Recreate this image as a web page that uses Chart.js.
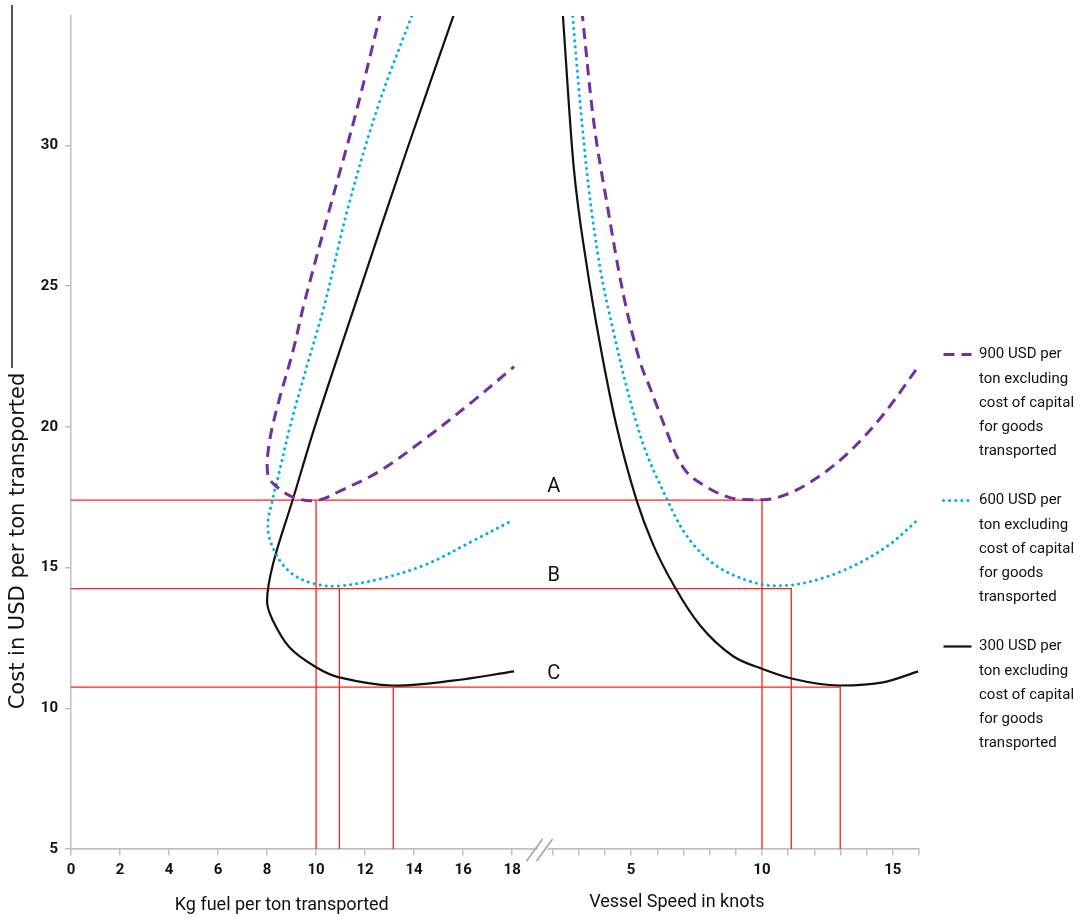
<!DOCTYPE html>
<html>
<head>
<meta charset="utf-8">
<title>Cost per ton transported vs fuel and vessel speed</title>
<script src="https://cdn.jsdelivr.net/npm/chart.js@4.4.1/dist/chart.umd.min.js"></script>
<style>
  html, body { margin: 0; padding: 0; background: #fff; }
</style>
</head>
<body>
<canvas id="costChart" width="1083" height="920"></canvas>
<script>
// Left panel: kg fuel per ton transported -> cost in USD per ton
var fuel900 = [12.66, 11.63, 10.55, 9.53, 9.05, 8.51, 8.10, 8.03, 8.37, 9.12, 10.07, 10.95, 12.58, 14.48, 16.38, 18.08];
var costByFuel900 = [34.8, 31.17, 27.74, 24.44, 22.67, 21.01, 19.48, 18.30, 17.89, 17.48, 17.39, 17.71, 18.42, 19.60, 20.90, 22.14];
var fuel600 = [13.99, 12.58, 11.36, 10.34, 9.60, 8.92, 8.44, 8.24, 8.03, 8.37, 9.05, 10.00, 10.95, 12.58, 14.48, 16.38, 18.00];
var costByFuel600 = [34.8, 31.52, 27.98, 24.32, 22.08, 19.95, 18.18, 17.48, 16.41, 15.47, 14.76, 14.41, 14.35, 14.59, 15.11, 15.94, 16.67];
var fuel300 = [15.68, 13.67, 11.63, 10.00, 9.05, 8.24, 8.00, 8.24, 8.92, 10.00, 10.95, 13.12, 15.57, 18.08];
var costByFuel300 = [34.8, 29.75, 24.44, 20.15, 17.42, 15.12, 13.80, 13.11, 12.16, 11.46, 11.10, 10.81, 10.98, 11.31];

// Right panel: vessel speed in knots -> cost in USD per ton
var speed900 = [3.12, 3.56, 4.07, 4.71, 5.34, 5.73, 6.36, 6.72, 7.10, 7.74, 8.44, 9.14, 10.05, 10.94, 12.09, 13.36, 14.63, 15.97];
var costBySpeed900 = [34.8, 30.93, 27.98, 24.68, 22.32, 21.37, 19.84, 19.01, 18.42, 17.95, 17.60, 17.42, 17.41, 17.60, 18.18, 19.13, 20.43, 22.14];
var speed600 = [2.75, 3.05, 3.37, 3.82, 4.30, 4.84, 5.47, 6.23, 7.00, 8.02, 9.29, 10.56, 11.70, 13.36, 14.89, 15.97];
var costBySpeed600 = [34.8, 31.52, 28.57, 25.62, 23.50, 21.37, 19.36, 17.71, 16.30, 15.23, 14.59, 14.35, 14.47, 15.00, 15.83, 16.71];
var speed300 = [2.38, 2.80, 3.31, 3.82, 4.45, 5.22, 5.85, 6.68, 7.63, 8.90, 10.05, 11.13, 12.98, 14.63, 15.97];
var costBySpeed300 = [34.8, 29.3, 25.7, 22.9, 20.0, 17.36, 15.8, 14.29, 12.95, 11.85, 11.39, 11.06, 10.81, 10.92, 11.31];

// Optimum points A, B, C (cost, fuel, speed)
var optLetters = ['A', 'B', 'C'];
var optCost = [17.4, 14.25, 10.75];
var optFuel = [10.0, 10.95, 13.15];
var optSpeed = [10.0, 11.12, 12.99];

// Axis ranges and labels
var costMin = 5, costMax = 34.6, costStep = 5;
var fuelMin = 0, fuelMax = 34.6, fuelLast = 18, fuelStep = 2;
var speedMin = -16.4, speedMax = 16, speedFirst = 2, speedLabelStep = 5;

var seriesNames = [
    ['900 USD per', 'ton excluding', 'cost of capital', 'for goods', 'transported'],
    ['600 USD per', 'ton excluding', 'cost of capital', 'for goods', 'transported'],
    ['300 USD per', 'ton excluding', 'cost of capital', 'for goods', 'transported']
];
var seriesColors = ['#7030a0', '#00b0f0', '#111111'];
var seriesDash = [[11, 7], [0.1, 6], []];
var seriesWidth = [3, 3, 2.2];

var tickFont = { family: 'Roboto, sans-serif', size: 15, weight: 'bold' };
var axisGray = '#bfbfbf';

function points(xs, ys) {
    return xs.map(function(x, i) { return { x: x, y: ys[i] }; });
}

function curve(idx, axisId, xs, ys) {
    var ds = {
        label: seriesNames[idx],
        xAxisID: axisId,
        data: points(xs, ys),
        borderColor: seriesColors[idx],
        backgroundColor: seriesColors[idx],
        borderWidth: seriesWidth[idx],
        borderDash: seriesDash[idx],
        borderCapStyle: idx === 1 ? 'round' : 'butt',
        pointRadius: 0,
        fill: false
    };
    // speed curves run left to right, fuel curves fold back on themselves
    if (axisId === 'xs') {
        ds.cubicInterpolationMode = 'monotone';
    } else {
        ds.tension = 0.35;
    }
    return ds;
}

var datasets = [
    curve(0, 'xk', fuel900, costByFuel900),
    curve(1, 'xk', fuel600, costByFuel600),
    curve(2, 'xk', fuel300, costByFuel300),
    curve(0, 'xs', speed900, costBySpeed900),
    curve(1, 'xs', speed600, costBySpeed600),
    curve(2, 'xs', speed300, costBySpeed300)
];

// Red guide lines for A, B, C
optCost.forEach(function(c, i) {
    datasets.push({
        label: optLetters[i],
        xAxisID: 'xs',
        data: [{ x: speedMin, y: c }, { x: optSpeed[i], y: c }, { x: optSpeed[i], y: costMin }],
        borderColor: '#ff2020',
        borderWidth: 1.3,
        pointRadius: 0,
        tension: 0
    });
    datasets.push({
        label: optLetters[i],
        xAxisID: 'xk',
        data: [{ x: optFuel[i], y: c }, { x: optFuel[i], y: costMin }],
        borderColor: '#ff2020',
        borderWidth: 1.3,
        pointRadius: 0,
        tension: 0
    });
});

// Titles, A/B/C letters and the axis break mark
var extrasPlugin = {
    id: 'extras',
    afterDraw: function(chart) {
        var ctx = chart.ctx;
        var xk = chart.scales.xk, xs = chart.scales.xs, y = chart.scales.y;
        var axisY = y.getPixelForValue(costMin);
        ctx.save();

        // break mark on the x axis
        var cx = xs.getPixelForValue(speedFirst) - 12;
        ctx.fillStyle = '#ffffff';
        ctx.beginPath();
        ctx.moveTo(cx - 9, axisY + 12);
        ctx.lineTo(cx + 1, axisY + 12);
        ctx.lineTo(cx + 12, axisY - 10);
        ctx.lineTo(cx + 2, axisY - 10);
        ctx.closePath();
        ctx.fill();
        ctx.strokeStyle = '#a0a0a0';
        ctx.lineWidth = 1.5;
        ctx.beginPath();
        ctx.moveTo(cx - 14, axisY + 12);
        ctx.lineTo(cx + 2, axisY - 10);
        ctx.moveTo(cx - 4, axisY + 12);
        ctx.lineTo(cx + 12, axisY - 10);
        ctx.stroke();

        // letters above the guide lines
        ctx.fillStyle = '#111111';
        ctx.font = '20px Roboto, sans-serif';
        ctx.textAlign = 'center';
        ctx.textBaseline = 'bottom';
        optLetters.forEach(function(t, i) {
            ctx.fillText(t, xk.getPixelForValue(19.7), y.getPixelForValue(optCost[i]) - 3);
        });

        // axis titles
        ctx.font = '18px Roboto, sans-serif';
        ctx.textBaseline = 'middle';
        ctx.fillText('Kg fuel per ton transported', xk.getPixelForValue(8.6), 905);
        ctx.fillText('Vessel Speed in knots', xs.getPixelForValue(6.75), 902);

        ctx.save();
        ctx.translate(19, 541);
        ctx.rotate(-Math.PI / 2);
        ctx.font = '21px "DejaVu Sans", sans-serif';
        ctx.fillText('Cost in USD per ton transported', 0, 0);
        ctx.restore();

        // dark rule at the top left edge
        ctx.strokeStyle = '#555555';
        ctx.lineWidth = 2;
        ctx.beginPath();
        ctx.moveTo(12, 5);
        ctx.lineTo(12, 368);
        ctx.stroke();

        ctx.restore();
    }
};

var gridOpts = { drawOnChartArea: false, drawTicks: true, tickLength: 6, color: axisGray, lineWidth: 1.5 };
var borderOpts = { display: true, color: axisGray, width: 1.5 };

new Chart(document.getElementById('costChart').getContext('2d'), {
    type: 'line',
    data: { datasets: datasets },
    options: {
        responsive: false,
        animation: false,
        events: [],
        layout: { padding: { top: 14, right: 0, bottom: 71, left: 0 } },
        scales: {
            y: {
                type: 'linear',
                position: 'left',
                min: costMin,
                max: costMax,
                grid: gridOpts,
                border: borderOpts,
                ticks: { stepSize: costStep, includeBounds: false, padding: 7, color: '#111', font: tickFont },
                afterFit: function(scale) { scale.width = 71; }
            },
            xk: {
                type: 'linear',
                position: { y: costMin },
                min: fuelMin,
                max: fuelMax,
                grid: gridOpts,
                border: borderOpts,
                ticks: { stepSize: fuelStep, includeBounds: false, autoSkip: false, maxRotation: 0, padding: 6, color: '#111', font: tickFont },
                afterBuildTicks: function(scale) {
                    scale.ticks = scale.ticks.filter(function(t) { return t.value <= fuelLast; });
                }
            },
            xs: {
                type: 'linear',
                position: { y: costMin },
                min: speedMin,
                max: speedMax,
                grid: gridOpts,
                border: borderOpts,
                ticks: {
                    stepSize: 1, includeBounds: false, autoSkip: false, maxRotation: 0, padding: 6, color: '#111', font: tickFont,
                    callback: function(v) { return v % speedLabelStep === 0 ? String(v) : ''; }
                },
                afterBuildTicks: function(scale) {
                    scale.ticks = scale.ticks.filter(function(t) { return t.value >= speedFirst; });
                }
            }
        },
        plugins: {
            tooltip: { enabled: false },
            legend: {
                position: 'right',
                align: 'start',
                maxWidth: 164,
                title: { display: true, text: ' ', color: 'rgba(0,0,0,0)', font: { size: 10, lineHeight: 1 }, padding: { top: 298.5, bottom: 0 } },
                labels: {
                    usePointStyle: true,
                    pointStyle: 'line',
                    pointStyleWidth: 28,
                    padding: 24.5,
                    color: '#111',
                    font: { family: 'Roboto, sans-serif', size: 15, lineHeight: 1.62 },
                    generateLabels: function(chart) {
                        return chart.data.datasets.slice(0, 3).map(function(ds, i) {
                            return {
                                text: ds.label,
                                datasetIndex: i,
                                hidden: false,
                                fontColor: '#111',
                                fillStyle: ds.borderColor,
                                strokeStyle: ds.borderColor,
                                lineWidth: ds.borderWidth,
                                lineDash: ds.borderDash,
                                lineCap: ds.borderCapStyle,
                                pointStyle: 'line'
                            };
                        });
                    }
                }
            }
        }
    },
    plugins: [extrasPlugin]
});
</script>
</body>
</html>
